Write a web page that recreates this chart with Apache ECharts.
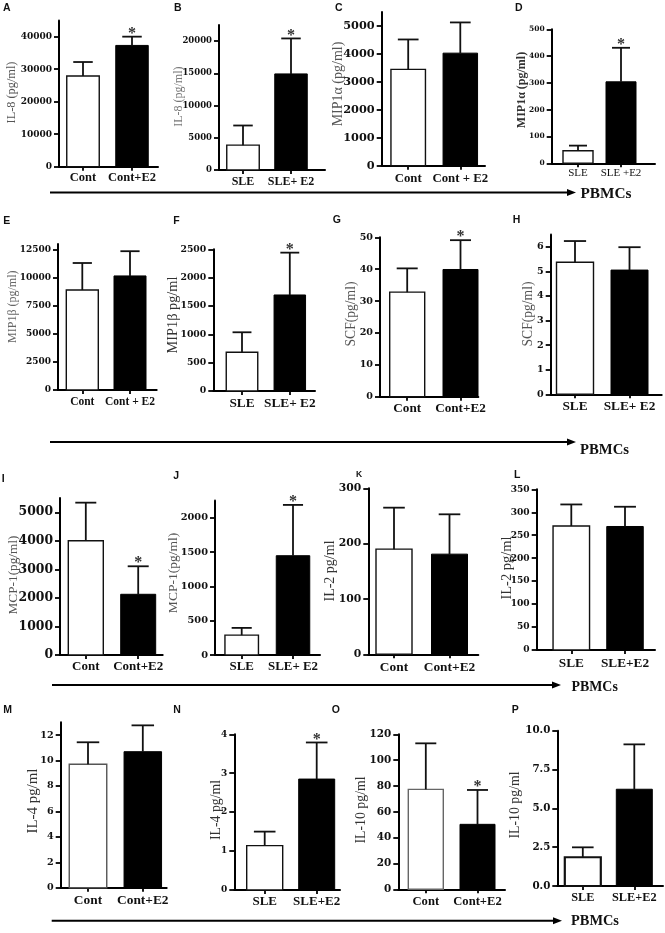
<!DOCTYPE html>
<html><head><meta charset="utf-8">
<script src="https://cdn.jsdelivr.net/npm/echarts@6/dist/echarts.min.js"></script>
<style>html,body{margin:0;padding:0;background:#fff}#c{width:665px;height:933px}</style>
</head><body><div id="c"></div>
<script>
// ---------------- DATA ----------------
const panelLetters = ['A','B','C','D','E','F','G','H','I','J','K','L','M','N','O','P'];
const yTitles = ['IL-8 (pg/ml)','IL-8 (pg/ml)','MIP1\u03b1 (pg/ml)','MIP1\u03b1 (pg/ml)',
  'MIP1\u03b2 (pg/ml)','MIP1\u03b2 pg/ml','SCF(pg/ml)','SCF(pg/ml)',
  'MCP-1(pg/ml)','MCP-1(pg/ml)','IL-2 pg/ml','IL-2 pg/ml',
  'IL-4 pg/ml','IL-4 pg/ml','IL-10 pg/ml','IL-10 pg/ml'];
const groupLabels = [
  ['Cont','Cont+E2'],['SLE','SLE+ E2'],['Cont','Cont + E2'],['SLE','SLE +E2'],
  ['Cont','Cont + E2'],['SLE','SLE+ E2'],['Cont','Cont+E2'],['SLE','SLE+ E2'],
  ['Cont','Cont+E2'],['SLE','SLE+ E2'],['Cont','Cont+E2'],['SLE','SLE+E2'],
  ['Cont','Cont+E2'],['SLE','SLE+E2'],['Cont','Cont+E2'],['SLE','SLE+E2']];
const untreatedMean = [27900, 3850, 3450, 47, 8900, 683, 32.8, 5.37, 4000, 290, 190, 270, 9.7, 1.14, 77.4, 1.85];
const untreatedSD   = [4300, 3050, 1070, 19, 2400, 353, 7.45, 0.86, 1337, 105, 75, 47, 1.73, 0.36, 35.6, 0.64];
const e2Mean        = [37300, 14900, 4030, 304, 10150, 1694, 39.9, 5.05, 2127, 1447, 181, 269, 10.69, 2.85, 50.3, 6.23];
const e2SD          = [2700, 5500, 1100, 127, 2200, 747, 9.2, 0.93, 981, 740, 72, 43, 2.07, 0.94, 26.6, 2.89];
const e2Significant = [1,1,0,1, 0,1,1,0, 1,1,0,0, 0,1,1,0];
const yTicks = [
  [0,10000,20000,30000,40000],[0,5000,10000,15000,20000],[0,1000,2000,3000,4000,5000],[0,100,200,300,400,500],
  [0,2500,5000,7500,10000,12500],[0,500,1000,1500,2000,2500],[0,10,20,30,40,50],[0,1,2,3,4,5,6],
  [0,1000,2000,3000,4000,5000],[0,500,1000,1500,2000],[0,100,200,300],[0,50,100,150,200,250,300,350],
  [0,2,4,6,8,10,12],[0,1,2,3,4],[0,20,40,60,80,100,120],[0,2.5,5,7.5,10]];
const yMax = [45000, 22500, 5500, 500, 13000, 2500, 50, 6.5, 5500, 2250, 300, 350, 13, 4, 120, 10];
const yDecimals = [0,0,0,0, 0,0,0,0, 0,0,0,0, 0,0,0,1];
const cellLabel = 'PBMCs';

// ---------------- LAYOUT (pixels / styles) ----------------
const layout = [
 {ax:59, top:20.4, bottom:166.7, xEnd:158, c1:83, c2:132, bw:32.5, tfs:9, cfs:12.5, cm:5, tx:12, ty:92.5, tfz:12.3, tc:'#555'},
 {ax:219, top:24.9, bottom:170, xEnd:325, c1:243, c2:291, bw:32.5, tfs:8.5, cfs:12, cm:6, tx:179, ty:96.7, tfz:12, tc:'#777'},
 {ax:381.7, top:12.1, bottom:165.7, xEnd:485, c1:408.2, c2:460.3, bw:34.5, tfs:11.3, cfs:12.8, cm:6, tx:338, ty:84, tfz:14, tc:'#555'},
 {ax:551.7, top:29.3, bottom:163.3, xEnd:655, c1:578, c2:621, bw:30, tfs:7.5, cfs:11, cw:'normal', cm:4, tx:521.7, ty:90, tfz:12, tc:'#333', tb:true},
 {ax:58, top:243.9, bottom:390, xEnd:156.7, c1:82.3, c2:130, bw:32, tfs:9, cfs:11.5, cm:5.6, tx:13, ty:306.7, tfz:12, tc:'#666'},
 {ax:213.3, top:249.3, bottom:391, xEnd:315, c1:242, c2:289.8, bw:31.5, tfs:9.3, cfs:13.3, cm:6.4, tx:173.3, ty:315, tfz:14.3, tc:'#333'},
 {ax:380, top:237.3, bottom:396.7, xEnd:478.3, c1:407.2, c2:460.5, bw:35, tfs:9.6, cfs:13.2, cm:5.7, tx:351.7, ty:314, tfz:13.6, tc:'#555'},
 {ax:550.7, top:234.4, bottom:394.3, xEnd:661.7, c1:575, c2:629.5, bw:37, tfs:9.6, cfs:13.3, cm:5.7, tx:528.3, ty:314, tfz:13.6, tc:'#555'},
 {ax:60, top:498, bottom:655, xEnd:162.7, c1:85.8, c2:138.2, bw:35, tfs:12.4, cfs:13, cm:5.2, tx:14, ty:575, tfz:13.3, tc:'#555'},
 {ax:215, top:500.6, bottom:655, xEnd:320, c1:241.7, c2:293, bw:33.5, tfs:9.8, cfs:12.9, cm:5.2, tx:173, ty:573, tfz:13.5, tc:'#555'},
 {ax:368.3, top:488.3, bottom:654.3, xEnd:478.3, c1:394, c2:449.5, bw:36, tfs:10.8, cfs:13.4, cm:6.3, tx:330.5, ty:571, tfz:14, tc:'#333'},
 {ax:536.7, top:489.3, bottom:650, xEnd:655, c1:571.3, c2:625, bw:36.5, tfs:9.1, cfs:13.3, cm:6.6, tx:506.7, ty:568, tfz:14.5, tc:'#333'},
 {ax:60.7, top:722.3, bottom:887.7, xEnd:166.7, c1:88, c2:142.8, bw:37.5, tfs:9.6, cfs:13.4, cm:6.3, tx:33.3, ty:801, tfz:14.9, tc:'#333', bc:'#555'},
 {ax:234.3, top:734.3, bottom:890, xEnd:340, c1:264.7, c2:316.7, bw:36, tfs:9, cfs:13, cm:5.2, tx:216.7, ty:810, tfz:13.8, tc:'#333'},
 {ax:398.3, top:734.3, bottom:889.3, xEnd:505, c1:425.8, c2:477.5, bw:35, tfs:10.4, cfs:12.6, cm:6.1, tx:361.7, ty:810, tfz:13.8, tc:'#333', bc:'#666'},
 {ax:557.3, top:730.7, bottom:886, xEnd:663, c1:582.8, c2:634.3, bw:36, tfs:10.3, cfs:12.3, cm:6.1, tx:515, ty:805, tfz:13.8, tc:'#333', blw:2.2}
];
const letterPos = [[3,4],[174,4],[335,4],[515,3.5],[3.3,216.7],[173.3,216.7],[332.7,216],[512.7,216],
  [1.7,475],[173.3,472],[356,471],[514,470.7],[3.3,706],[173.3,706],[331.7,706],[511.7,706]];
const arrows = [
  {x1:50, x2:576, y:192.5, tx:580.5, ty:194.3, fs:15.3},
  {x1:50, x2:576, y:442, tx:580, ty:450, fs:14.7},
  {x1:52, x2:561, y:685, tx:571.5, ty:687, fs:13.9},
  {x1:51.7, x2:562, y:920.7, tx:571, ty:921.7, fs:14.4}
];

// ---------------- BUILD ----------------
const grids = [], xAxes = [], yAxes = [], series = [], graphics = [];
function makeRender(i) {
  const P = layout[i];
  const unitW = P.bw / (P.c2 - P.c1);
  return function (params, api) {
    const x = api.value(0), m = api.value(1), sd = api.value(2), treated = api.value(3), sig = api.value(4);
    const base = api.coord([x, 0]);
    const top = api.coord([x, m]);
    const et = api.coord([x, m + sd]);
    const w = api.size([unitW, 0])[0];
    const capW = w * 0.6;
    const children = [
      {type:'rect', shape:{x: base[0]-w/2, y: top[1], width: w, height: base[1]-top[1]},
        style:{fill: treated ? '#000' : '#fff', stroke: treated ? '#000' : (P.bc || '#111'), lineWidth: treated ? 1 : (P.blw || 1.4)}},
      {type:'line', shape:{x1: top[0], y1: top[1], x2: et[0], y2: et[1]}, style:{stroke:'#111', lineWidth:1.8}},
      {type:'line', shape:{x1: et[0]-capW/2, y1: et[1], x2: et[0]+capW/2, y2: et[1]}, style:{stroke:'#111', lineWidth:1.8}}
    ];
    if (sig) children.push({type:'text', x: et[0], y: et[1]-3,
      style:{text:'*', font:'bold 16px "Liberation Serif"', fill:'#333', align:'center', verticalAlign:'middle'}});
    return {type:'group', children};
  };
}
for (let i = 0; i < 16; i++) {
  const P = layout[i];
  const s = P.c2 - P.c1;
  const xMin = 1 - (P.c1 - P.ax) / s;
  const xMax = 2 + (P.xEnd - P.c2) / s;
  grids.push({left: P.ax, top: P.top, width: P.xEnd - P.ax, height: P.bottom - P.top, outerBoundsMode:'none', containLabel:false});
  const axisLine = {show:true, onZero:false, lineStyle:{color:'#000', width:2}};
  xAxes.push({gridIndex:i, type:'value', min:xMin, max:xMax, axisLine,
    splitLine:{show:false},
    axisTick:{show:true, customValues:[1,2], length:4, lineStyle:{color:'#000', width:1.8}},
    axisLabel:{show:true, customValues:[1,2], margin:P.cm, formatter:(v)=>groupLabels[i][Math.round(v)-1],
      fontFamily:'Liberation Serif', fontWeight:P.cw || 'bold', fontSize:P.cfs, color:'#111'}});
  yAxes.push({gridIndex:i, type:'value', min:0, max:yMax[i], axisLine,
    splitLine:{show:false},
    axisTick:{show:true, customValues:yTicks[i], length:5, lineStyle:{color:'#000', width:1.8}},
    axisLabel:{show:true, customValues:yTicks[i], margin:7, formatter:(v)=>Number(v).toFixed(yDecimals[i]),
      fontFamily:'DejaVu Serif', fontWeight:'bold', fontSize:P.tfs, color:'#111'}});
  series.push({type:'custom', xAxisIndex:i, yAxisIndex:i, clip:false, silent:true,
    renderItem: makeRender(i),
    encode:{x:0, y:1},
    data:[[1, untreatedMean[i], untreatedSD[i], 0, 0], [2, e2Mean[i], e2SD[i], 1, e2Significant[i]]]});
  graphics.push({type:'text', x:P.tx, y:P.ty, rotation:Math.PI/2,
    style:{text:yTitles[i], font:(P.tb?'bold ':'')+P.tfz+'px "Liberation Serif"', fill:P.tc, align:'center', verticalAlign:'middle'}});
  graphics.push({type:'text', x:letterPos[i][0], y:letterPos[i][1]-1,
    style:{text:panelLetters[i], font:'bold '+(i===10?8.5:10.5)+'px "Liberation Sans"', fill:'#111', align:'left', verticalAlign:'top'}});
}
arrows.forEach(a => {
  graphics.push({type:'line', shape:{x1:a.x1, y1:a.y, x2:a.x2-6, y2:a.y}, style:{stroke:'#000', lineWidth:2}});
  graphics.push({type:'polygon', shape:{points:[[a.x2, a.y],[a.x2-9, a.y-3.5],[a.x2-9, a.y+3.5]]}, style:{fill:'#000'}});
  graphics.push({type:'text', x:a.tx, y:a.ty, style:{text:cellLabel, font:'bold '+a.fs+'px "Liberation Serif"', fill:'#111', align:'left', verticalAlign:'middle'}});
});

const option = {
  animation:false,
  backgroundColor:'#fff',
  grid:grids, xAxis:xAxes, yAxis:yAxes, series,
  graphic:{elements:graphics}
};
const chart = echarts.init(document.getElementById('c'), null, {renderer:'canvas'});
chart.setOption(option);
</script></body></html>
